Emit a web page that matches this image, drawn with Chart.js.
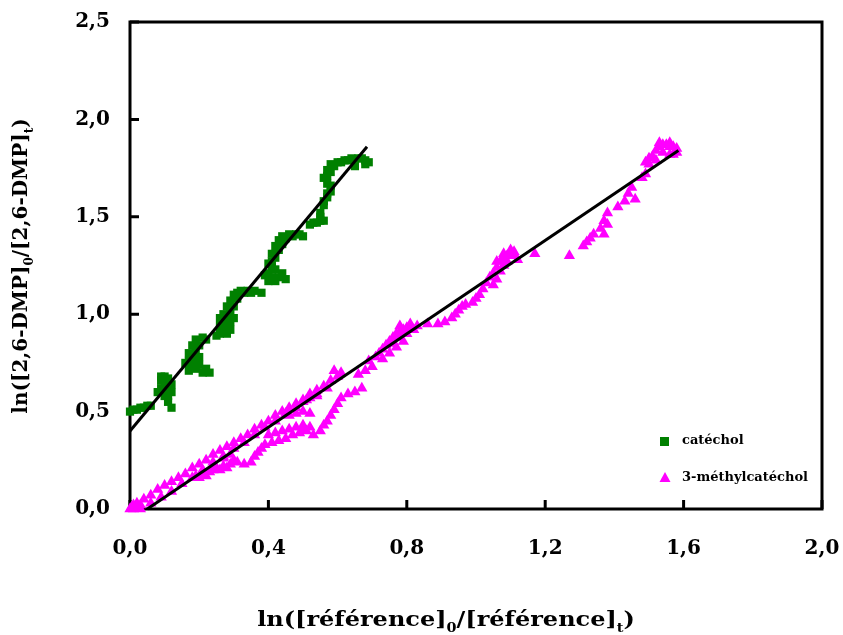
<!DOCTYPE html>
<html>
<head>
<meta charset="utf-8">
<script src="https://cdn.jsdelivr.net/npm/chart.js@4.4.0/dist/chart.umd.min.js"></script>
<style>
  html, body { margin: 0; padding: 0; background: #fff; }
</style>
</head>
<body>
<canvas id="kinChart" width="843" height="635"></canvas>
<script>
// données
const xTickLabels = ['0,0', '0,4', '0,8', '1,2', '1,6', '2,0'];
const yTickLabels = ['0,0', '0,5', '1,0', '1,5', '2,0', '2,5'];

const catPts = [
  [0.00,0.50],[0.01,0.51],[0.02,0.51],[0.03,0.52],[0.04,0.52],[0.05,0.53],[0.06,0.53],
  [0.08,0.60],[0.09,0.66],[0.10,0.68],[0.11,0.67],[0.12,0.64],[0.10,0.58],[0.11,0.55],[0.12,0.52],[0.11,0.61],
  [0.09,0.62],[0.10,0.64],[0.12,0.60],[0.09,0.68],[0.11,0.58],
  [0.16,0.75],[0.17,0.80],[0.18,0.84],[0.19,0.87],[0.21,0.88],[0.22,0.87],[0.20,0.78],[0.19,0.72],[0.21,0.70],[0.23,0.70],[0.17,0.71],
  [0.18,0.78],[0.19,0.82],[0.20,0.84],[0.18,0.74],[0.20,0.74],[0.22,0.72],[0.17,0.76],
  [0.25,0.89],[0.26,0.94],[0.27,0.96],[0.27,1.00],[0.28,1.04],[0.29,1.07],[0.30,1.10],[0.32,1.12],[0.34,1.12],[0.36,1.12],[0.38,1.11],[0.30,0.98],[0.29,0.92],[0.28,0.90],
  [0.26,0.90],[0.27,0.92],[0.28,0.97],[0.29,1.01],[0.30,1.04],[0.31,1.08],[0.31,1.11],[0.33,1.11],[0.35,1.11],[0.29,0.96],[0.26,0.98],
  [0.39,1.20],[0.40,1.26],[0.41,1.31],[0.42,1.35],[0.43,1.38],[0.44,1.40],[0.46,1.41],[0.48,1.41],[0.50,1.40],[0.42,1.23],[0.43,1.19],[0.45,1.18],[0.40,1.17],
  [0.40,1.21],[0.41,1.24],[0.41,1.27],[0.42,1.29],[0.43,1.33],[0.44,1.36],[0.45,1.39],[0.47,1.40],[0.49,1.41],[0.41,1.19],[0.44,1.21],[0.42,1.17],
  [0.52,1.46],[0.54,1.47],[0.56,1.48],[0.53,1.47],[0.55,1.48],
  [0.55,1.52],[0.56,1.56],[0.57,1.60],[0.58,1.63],[0.57,1.67],[0.56,1.70],[0.55,1.50],[0.56,1.58],[0.57,1.62],[0.58,1.66],
  [0.57,1.74],[0.58,1.77],[0.60,1.78],[0.62,1.79],[0.64,1.80],[0.66,1.80],[0.68,1.79],[0.68,1.77],[0.65,1.76],
  [0.57,1.71],[0.58,1.73],[0.59,1.76],[0.61,1.78],[0.63,1.79],[0.67,1.80],[0.69,1.78]
];

const mcPts = [
  // ruban supérieur
  [0.00,0.00],[0.005,0.01],[0.01,0.00],[0.02,0.01],[0.03,0.02],
  [0.01,0.02],[0.02,0.03],[0.04,0.05],[0.06,0.07],[0.08,0.10],[0.10,0.12],[0.12,0.14],[0.14,0.16],[0.16,0.18],[0.18,0.21],
  [0.20,0.23],[0.22,0.25],[0.24,0.28],[0.26,0.30],[0.28,0.32],[0.30,0.34],[0.32,0.36],[0.34,0.38],[0.36,0.41],[0.38,0.43],
  [0.40,0.45],[0.42,0.48],[0.44,0.50],[0.46,0.52],[0.48,0.54],[0.50,0.56],[0.52,0.59],[0.54,0.61],[0.56,0.63],[0.58,0.66],
  [0.60,0.68],[0.59,0.71],[0.61,0.70],
  [0.03,0.00],[0.06,0.03],[0.09,0.06],[0.12,0.09],[0.15,0.13],[0.18,0.16],[0.21,0.20],[0.24,0.24],[0.27,0.27],[0.30,0.31],
  [0.33,0.34],[0.36,0.38],[0.39,0.42],[0.42,0.45],[0.45,0.49],[0.48,0.52],[0.51,0.56],[0.54,0.59],[0.57,0.62],
  // bande inférieure
  [0.19,0.17],[0.20,0.16],[0.21,0.18],[0.22,0.17],[0.23,0.19],[0.24,0.20],[0.25,0.21],[0.26,0.20],[0.27,0.22],[0.28,0.21],
  [0.29,0.23],[0.30,0.25],[0.31,0.24],[0.33,0.23],[0.35,0.24],[0.36,0.27],[0.37,0.29],[0.38,0.31],[0.39,0.33],[0.41,0.34],
  [0.27,0.26],[0.29,0.28],[0.40,0.38],[0.42,0.39],[0.44,0.40],[0.46,0.41],[0.48,0.42],[0.50,0.43],
  [0.43,0.35],[0.45,0.36],[0.47,0.38],[0.49,0.39],[0.50,0.41],[0.51,0.40],[0.52,0.42],[0.53,0.38],[0.46,0.48],[0.48,0.49],
  [0.50,0.50],[0.52,0.49],[0.50,0.55],[0.52,0.57],[0.54,0.58],
  [0.55,0.40],[0.56,0.43],[0.57,0.45],[0.58,0.48],[0.59,0.51],[0.60,0.54],[0.61,0.57],[0.63,0.59],
  [0.65,0.60],[0.67,0.62],[0.66,0.69],[0.68,0.71],[0.70,0.73],
  // suite
  [0.69,0.76],[0.71,0.78],[0.72,0.80],[0.73,0.82],[0.74,0.84],[0.75,0.86],[0.76,0.88],[0.77,0.90],[0.78,0.91],[0.79,0.92],
  [0.80,0.93],[0.81,0.93],[0.82,0.92],[0.73,0.77],[0.75,0.80],[0.77,0.83],[0.79,0.86],[0.86,0.95],[0.89,0.95],[0.91,0.96],
  [0.76,0.85],[0.78,0.88],[0.80,0.90],[0.81,0.95],[0.83,0.94],[0.78,0.94],
  [0.93,0.98],[0.94,1.00],[0.95,1.02],[0.96,1.04],[0.97,1.05],[0.99,1.06],[1.00,1.08],[1.01,1.10],[1.02,1.13],[1.03,1.16],
  [1.04,1.19],[1.05,1.21],[1.06,1.24],[1.07,1.27],[1.08,1.29],[1.09,1.30],[1.10,1.31],[1.11,1.30],[1.12,1.28],[1.05,1.15],
  [1.06,1.18],[1.08,1.25],[1.06,1.27],[1.08,1.31],[1.10,1.33],[1.09,1.27],[1.11,1.32],[1.07,1.22],
  [1.17,1.31],[1.27,1.30],[1.31,1.35],[1.32,1.37],[1.33,1.39],[1.34,1.41],[1.36,1.44],[1.37,1.48],
  [1.37,1.41],[1.38,1.52],[1.38,1.46],[1.41,1.55],[1.43,1.58],[1.44,1.62],[1.45,1.65],[1.46,1.59],[1.48,1.70],[1.49,1.72],
  [1.50,1.77],[1.51,1.81],[1.52,1.84],[1.53,1.86],[1.54,1.87],[1.55,1.87],[1.56,1.86],[1.57,1.86],[1.58,1.85],[1.58,1.83],
  [1.56,1.82],[1.54,1.83],[1.52,1.79],[1.50,1.80],[1.53,1.88],[1.56,1.88],[1.57,1.82],[1.49,1.78]
];

// droites de régression (extrémités)
const catFit = [[0.0, 0.40], [0.685, 1.86]];
const mcFit = [[0.05, 0.0], [1.585, 1.84]];

const toXY = arr => arr.map(p => ({ x: p[0], y: p[1] }));

const FONT = '"DejaVu Serif", "Liberation Serif", serif';

// texte avec indices, centré en (cx, cy), étiré horizontalement de sx
function drawRich(ctx, parts, cx, cy, size, sx) {
  const main = 'bold ' + size + 'px ' + FONT;
  const sub = 'bold ' + Math.round(size * 0.62) + 'px ' + FONT;
  let total = 0;
  parts.forEach(p => {
    ctx.font = p.sub ? sub : main;
    p.w = ctx.measureText(p.t).width;
    total += p.w;
  });
  ctx.save();
  ctx.translate(cx, cy);
  ctx.scale(sx || 1, 1);
  let x = -total / 2;
  ctx.textAlign = 'left';
  ctx.textBaseline = 'middle';
  parts.forEach(p => {
    ctx.font = p.sub ? sub : main;
    ctx.fillText(p.t, x, p.sub ? size * 0.38 : 0);
    x += p.w;
  });
  ctx.restore();
}

// cadre + graduations intérieures
const framePlugin = {
  id: 'frame',
  beforeDatasetsDraw(chart) {
    const { ctx, chartArea: a, scales } = chart;
    ctx.save();
    ctx.strokeStyle = '#000';
    ctx.lineWidth = 3;
    ctx.strokeRect(a.left, a.top, a.right - a.left, a.bottom - a.top);
    ctx.beginPath();
    scales.y.ticks.forEach(t => {
      const py = scales.y.getPixelForValue(t.value);
      ctx.moveTo(a.left, py);
      ctx.lineTo(a.left + 9, py);
    });
    scales.x.ticks.forEach(t => {
      const px = scales.x.getPixelForValue(t.value);
      ctx.moveTo(px, a.bottom);
      ctx.lineTo(px, a.bottom - 9);
    });
    ctx.stroke();
    ctx.restore();
  },
  afterDraw(chart) {
    const ctx = chart.ctx;
    ctx.save();
    ctx.fillStyle = '#000';
    drawRich(ctx, [
      { t: 'ln([référence]' }, { t: '0', sub: true }, { t: '/[référence]' }, { t: 't', sub: true }, { t: ')' }
    ], 446, 621, 20, 1.2);
    ctx.translate(22, 266);
    ctx.rotate(-Math.PI / 2);
    drawRich(ctx, [
      { t: 'ln([2,6-DMP]' }, { t: '0', sub: true }, { t: '/[2,6-DMP]' }, { t: 't', sub: true }, { t: ')' }
    ], 0, 0, 20, 1);
    ctx.restore();

    // légende
    ctx.save();
    ctx.fillStyle = '#008000';
    ctx.fillRect(660, 437, 9, 9);
    ctx.fillStyle = '#FF00FF';
    ctx.beginPath();
    ctx.moveTo(665, 472);
    ctx.lineTo(670.5, 482);
    ctx.lineTo(659.5, 482);
    ctx.closePath();
    ctx.fill();
    ctx.fillStyle = '#000';
    ctx.font = 'bold 13px ' + FONT;
    ctx.textAlign = 'left';
    ctx.textBaseline = 'middle';
    ctx.fillText('catéchol', 682, 441);
    ctx.fillText('3-méthylcatéchol', 682, 478);
    ctx.restore();
  }
};

const ctx = document.getElementById('kinChart').getContext('2d');
const kinChart = new Chart(ctx, {
  type: 'scatter',
  data: {
    datasets: [
      {
        label: 'fit catéchol',
        data: toXY(catFit),
        showLine: true,
        borderColor: '#000',
        borderWidth: 3,
        pointRadius: 0,
        clip: false
      },
      {
        label: 'fit 3-méthylcatéchol',
        data: toXY(mcFit),
        showLine: true,
        borderColor: '#000',
        borderWidth: 3,
        pointRadius: 0,
        clip: false
      },
      {
        label: 'catéchol',
        data: toXY(catPts),
        pointStyle: 'rect',
        pointRadius: 5.8,
        pointBorderWidth: 0,
        backgroundColor: '#008000',
        borderColor: '#008000',
        clip: false
      },
      {
        label: '3-méthylcatéchol',
        data: toXY(mcPts),
        pointStyle: 'triangle',
        pointRadius: 6.5,
        pointBorderWidth: 0,
        backgroundColor: '#FF00FF',
        borderColor: '#FF00FF',
        clip: false
      }
    ]
  },
  options: {
    responsive: false,
    animation: false,
    layout: { padding: { top: 22, right: 21, bottom: 0, left: 0 } },
    plugins: {
      legend: { display: false },
      tooltip: { enabled: false }
    },
    scales: {
      x: {
        type: 'linear',
        min: 0,
        max: 2,
        grid: { display: false, drawTicks: false },
        border: { display: false },
        afterFit: s => { s.height = 126; s.paddingLeft = 0; s.paddingRight = 0; },
        ticks: {
          stepSize: 0.4,
          padding: 28,
          color: '#000',
          font: { family: FONT, size: 20, weight: 'bold' },
          callback: (v, i) => xTickLabels[i]
        }
      },
      y: {
        min: 0,
        max: 2.5,
        grid: { display: false, drawTicks: false },
        border: { display: false },
        afterFit: s => { s.width = 130; s.paddingTop = 0; s.paddingBottom = 0; },
        ticks: {
          stepSize: 0.5,
          padding: 20,
          color: '#000',
          font: { family: FONT, size: 20, weight: 'bold' },
          callback: (v, i) => yTickLabels[i]
        }
      }
    }
  },
  plugins: [framePlugin]
});
</script>
</body>
</html>
